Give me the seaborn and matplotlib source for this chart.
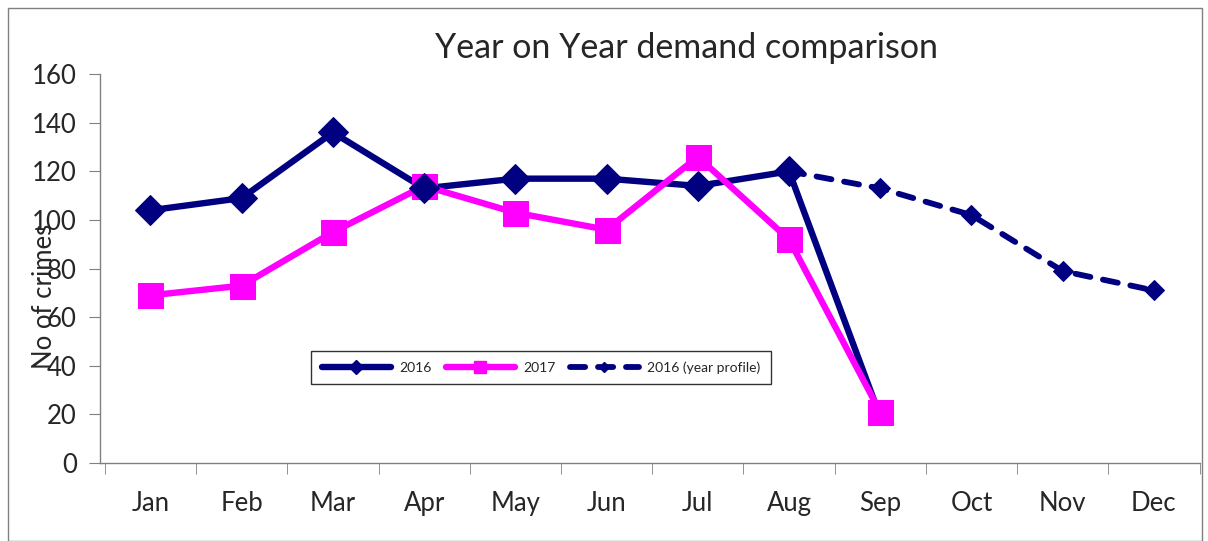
import pandas as pd
import matplotlib.pyplot as plt
import seaborn as sns
from matplotlib.lines import Line2D
from matplotlib.patches import Rectangle

months = ["Jan", "Feb", "Mar", "Apr", "May", "Jun", "Jul", "Aug", "Sep", "Oct", "Nov", "Dec"]

months_2016 = ["Jan", "Feb", "Mar", "Apr", "May", "Jun", "Jul", "Aug", "Sep"]
crimes_2016 = [104, 109, 136, 113, 117, 117, 114, 120, 19]

months_2017 = ["Jan", "Feb", "Mar", "Apr", "May", "Jun", "Jul", "Aug", "Sep"]
crimes_2017 = [69, 73, 95, 114, 103, 96, 126, 92, 21]

months_profile = ["Aug", "Sep", "Oct", "Nov", "Dec"]
crimes_profile = [120, 113, 102, 79, 71]

navy = "#000080"
magenta = "#FF00FF"

sns.set_style("white")
plt.rcParams["font.family"] = ["Lato", "DejaVu Sans"]

df16 = pd.DataFrame({"pos": [months.index(m) for m in months_2016], "crimes": crimes_2016})
df17 = pd.DataFrame({"pos": [months.index(m) for m in months_2017], "crimes": crimes_2017})
dfp = pd.DataFrame({"pos": [months.index(m) for m in months_profile], "crimes": crimes_profile})

fig = plt.figure(figsize=(12.08, 5.41), dpi=100)
ax = fig.add_axes([0.083, 0.144, 0.91, 0.719])

# lines first (Excel draws all lines, then the markers on top)
sns.lineplot(data=dfp, x="pos", y="crimes", ax=ax, color=navy, lw=4.2,
             marker="D", markersize=10, markeredgecolor=navy, zorder=2)
ax.lines[-1].set_dashes([2.6, 2.2])
ax.lines[-1].set_dash_capstyle("round")
sns.lineplot(data=df16, x="pos", y="crimes", ax=ax, color=navy, lw=4.6, zorder=2)
sns.lineplot(data=df17, x="pos", y="crimes", ax=ax, color=magenta, lw=4.6, zorder=2.5)

# markers
sns.lineplot(data=df17, x="pos", y="crimes", ax=ax, color=magenta, linestyle="none",
             marker="s", markersize=18, markeredgecolor=magenta, zorder=3)
sns.lineplot(data=df16.iloc[:-1], x="pos", y="crimes", ax=ax, color=navy, linestyle="none",
             marker="D", markersize=15, markeredgecolor=navy, zorder=4)

ax.set_xlim(-0.55, 11.5)
ax.set_ylim(0, 160)
ax.set_yticks(range(0, 161, 20))
ax.set_xticks(range(len(months)))
ax.set_xticklabels(months)
ax.set_xticks([i - 0.5 for i in range(len(months) + 1)], minor=True)
ax.tick_params(axis="x", which="major", length=0, pad=20, labelsize=18.5)
ax.tick_params(axis="x", which="minor", length=8, color="#808080", direction="out", bottom=True)
ax.tick_params(axis="y", length=8, color="#808080", direction="out", left=True, pad=9, labelsize=18.5)
ax.set_xlabel("")
ax.set_ylabel("")
for s in ["top", "right"]:
    ax.spines[s].set_visible(False)
for s in ["left", "bottom"]:
    ax.spines[s].set_color("#808080")
    ax.spines[s].set_linewidth(1)

fig.text(0.037, 0.453, "No of crimes", rotation=90, ha="center", va="center", fontsize=18.5)
fig.text(0.568, 0.912, "Year on Year demand comparison", ha="center", va="center", fontsize=24.5)

h16 = Line2D([], [], color=navy, lw=4.6, marker="D", markersize=7.5)
h17 = Line2D([], [], color=magenta, lw=4.6, marker="s", markersize=9)
hp = Line2D([], [], color=navy, lw=4.2, marker="D", markersize=5, dashes=[2.6, 2.2],
            dash_capstyle="round")
leg = ax.legend([h16, h17, hp], ["2016", "2017", "2016 (year profile)"],
                loc="center", bbox_to_anchor=(0.448, 0.321), bbox_transform=fig.transFigure,
                ncol=3, fontsize=10, frameon=True, fancybox=False, handlelength=5,
                columnspacing=1.0, handletextpad=0.6, borderpad=0.75)
leg.get_frame().set_edgecolor("black")
leg.get_frame().set_linewidth(1)

fig.patches.append(Rectangle((0.007, 0.0), 0.988, 0.985, transform=fig.transFigure,
                             fill=False, edgecolor="#808080", lw=1))

fig.savefig("out.png", dpi=100)
